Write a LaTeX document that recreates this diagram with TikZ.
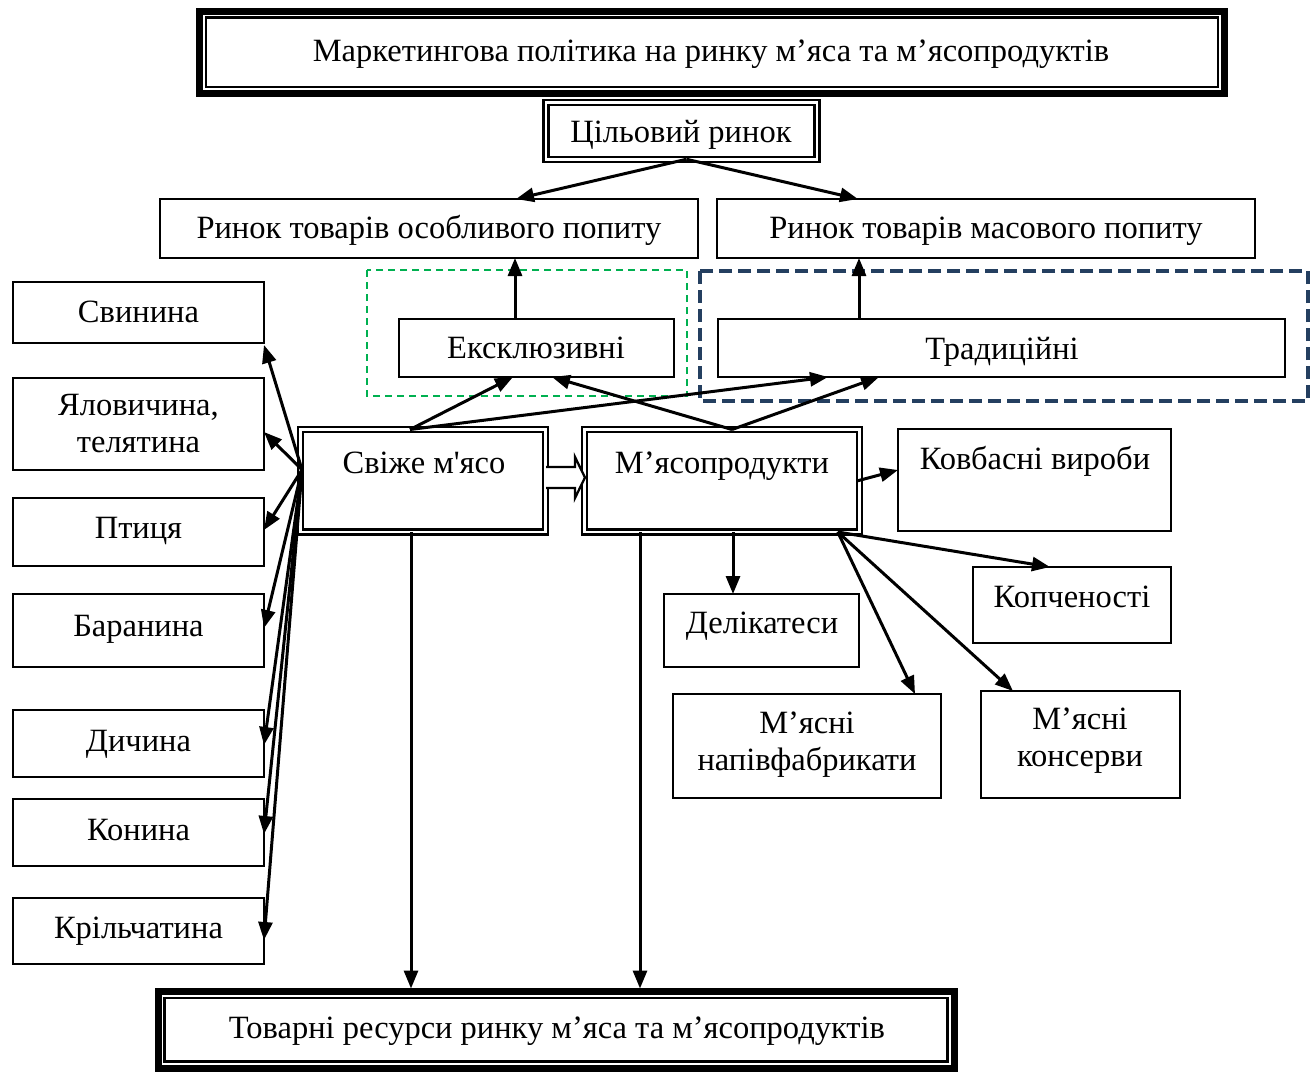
\documentclass[tikz,border=0pt]{standalone}
\usepackage{fontspec}
\setmainfont{Liberation Serif}[Ligatures=TeXOff]
\usetikzlibrary{arrows.meta,calc}
\definecolor{grn}{HTML}{00B050}
\definecolor{navy}{HTML}{243F60}

\begin{document}
\begin{tikzpicture}[x=1pt,y=-1pt,
  every node/.style={inner sep=0pt, outer sep=0pt, align=center,
    font=\fontsize{32.5}{37}\selectfont},
  box/.style={draw, line width=2.5pt, rectangle},
  dbox/.style={draw, line width=2.4pt, double, double distance=2.6pt, rectangle},
  frame/.style={draw, line width=7pt, rectangle},
  innerline/.style={line width=2.3pt},
  lbl/.style={anchor=base},
  arr/.style={line width=3pt, -{Triangle[length=18pt,width=14pt]}},
  grnbox/.style={draw=grn, line width=2.4pt, dash pattern=on 7pt off 5pt},
  navybox/.style={draw=navy, line width=4.8pt, dash pattern=on 13pt off 6pt},
  blockarrow/.style={line width=2.3pt, fill=white}
]
\fill[white] (0,0) rectangle (1314,1072);
\useasboundingbox (0,0) rectangle (1314,1072);

% group outlines
\draw[grnbox] (367,270) rectangle (687,396);
\draw[navybox] (700,271) rectangle (1308,401);

% top frame
\node[frame, minimum width=1025pt, minimum height=82.5pt] (title) at (712,52.25) {};
\draw[innerline] ([shift={(6.5,6.5)}]title.north west) rectangle ([shift={(-6.5,-6.5)}]title.south east);
\node[lbl] (title-t) at (711,61) {Маркетингова політика на ринку м’яса та м’ясопродуктів};

\node[dbox, minimum width=271pt, minimum height=56.5pt] (tsil) at (681.5,131) {};
\node[lbl] (tsil-t) at (681,142) {Цільовий ринок};

% markets
\node[box, minimum width=538pt, minimum height=59pt] (osobl) at (429,228.5) {};
\node[lbl] (osobl-t) at (429,238) {Ринок товарів особливого попиту};
\node[box, minimum width=538pt, minimum height=59pt] (masov) at (986,228.5) {};
\node[lbl] (masov-t) at (986,238) {Ринок товарів масового попиту};

\node[box, minimum width=275pt, minimum height=58pt] (ekskl) at (536.5,348) {};
\node[lbl] (ekskl-t) at (536,358) {Ексклюзивні};
\node[box, minimum width=567pt, minimum height=58pt] (trad) at (1001.5,348) {};
\node[lbl] (trad-t) at (1002,359) {Традиційні};

% main product groups
\node[dbox, minimum width=245pt, minimum height=102.5pt] (svizhe) at (423,480.75) {};
\node[lbl] (svizhe-t) at (424,473) {Свіже м'ясо};
\node[dbox, minimum width=274.5pt, minimum height=102.5pt] (myaso) at (722,480.75) {};
\node[lbl] (myaso-t) at (722,473) {М’ясопродукти};

% fresh meat kinds
\node[box, minimum width=251pt, minimum height=61pt] (svyn) at (138.5,312.5) {};
\node[lbl] (svyn-t) at (138.5,322.5) {Свинина};
\node[box, minimum width=251pt, minimum height=92pt] (yalov) at (138.5,424) {Яловичина,\\телятина};
\node[box, minimum width=251pt, minimum height=68pt] (ptyts) at (138.5,532) {};
\node[lbl] (ptyts-t) at (138.5,538) {Птиця};
\node[box, minimum width=251pt, minimum height=73pt] (baran) at (138.5,630.5) {};
\node[lbl] (baran-t) at (138.5,636) {Баранина};
\node[box, minimum width=251pt, minimum height=67pt] (dych) at (138.5,743.5) {};
\node[lbl] (dych-t) at (138.5,751) {Дичина};
\node[box, minimum width=251pt, minimum height=67pt] (kon) at (138.5,832.5) {};
\node[lbl] (kon-t) at (138.5,840) {Конина};
\node[box, minimum width=251pt, minimum height=66pt] (kril) at (138.5,931) {};
\node[lbl] (kril-t) at (138.5,938) {Крільчатина};

% meat products
\node[box, minimum width=273pt, minimum height=102pt] (kovb) at (1034.5,480) {};
\node[lbl] (kovb-t) at (1035,469) {Ковбасні вироби};
\node[box, minimum width=198pt, minimum height=76pt] (kopch) at (1072,605) {};
\node[lbl] (kopch-t) at (1072,607) {Копченості};
\node[box, minimum width=195pt, minimum height=73pt] (delik) at (761.5,630.5) {};
\node[lbl] (delik-t) at (762,633) {Делікатеси};
\node[box, minimum width=268pt, minimum height=104pt] (napiv) at (807,746) {};
\node (napiv-t) at (807,745) {М’ясні\\напівфабрикати};
\node[box, minimum width=199pt, minimum height=107pt] (konsv) at (1080.5,744.5) {};
\node (konsv-t) at (1080,741) {М’ясні\\консерви};

% bottom frame
\node[frame, minimum width=796pt, minimum height=76.5pt] (resurs) at (556,1029.75) {};
\draw[innerline] ([shift={(6.5,6.5)}]resurs.north west) rectangle ([shift={(-6.5,-6.5)}]resurs.south east);
\node[lbl] (resurs-t) at (557,1038) {Товарні ресурси ринку м’яса та м’ясопродуктів};

% connectors: target market
\draw[arr] ([xshift=5pt]tsil.south) -- ([xshift=87pt]osobl.north);
\draw[arr] ([xshift=5pt]tsil.south) -- ([xshift=-128pt]masov.north);
\draw[arr] ([xshift=-21.5pt]ekskl.north) -- ([xshift=-21.5pt]ekskl.north |- osobl.south);
\draw[arr] ([xshift=-142.5pt]trad.north) -- ([xshift=-142.5pt]trad.north |- masov.south);

% connectors: product groups to segments
\draw[arr] ([xshift=-13pt]svizhe.north) -- ([xshift=-23.5pt]ekskl.south);
\draw[arr] ([xshift=-13pt]svizhe.north) -- ([xshift=-173.5pt]trad.south);
\draw[arr] ([xshift=10pt]myaso.north) -- ([xshift=15.5pt]ekskl.south);
\draw[arr] ([xshift=10pt]myaso.north) -- ([xshift=-122.5pt]trad.south);

% block arrow between groups
\filldraw[blockarrow] (546,467) -- (575,467) -- (575,457) -- (585,477.5)
  -- (575,498) -- (575,488) -- (546,488);

% fan to fresh meat kinds
\coordinate (fan) at ([xshift=1.5pt,yshift=11pt]svizhe.west);
\draw[arr] (fan) -- ([yshift=-2pt]svyn.south east);
\draw[arr] (fan) -- ([yshift=-8pt]yalov.east);
\draw[arr] (fan) -- ([yshift=2pt]ptyts.east);
\draw[arr] (fan) -- ([yshift=2.5pt]baran.east);
\draw[arr] (fan) -- ([yshift=-1.5pt]dych.east);
\draw[arr] (fan) -- ([yshift=-1.5pt]kon.east);
\draw[arr] (fan) -- ([yshift=-9pt]kril.east);

% down to commodity resources
\draw[arr] ([xshift=-12pt]svizhe.south) -- ([xshift=-12pt,yshift=3pt]svizhe.south |- resurs.north);
\draw[arr] ([xshift=-82pt]myaso.south) -- ([xshift=-82pt,yshift=3pt]myaso.south |- resurs.north);

% meat products breakdown
\draw[arr] ([xshift=-1.5pt]myaso.east) -- ([yshift=10pt]kovb.west);
\draw[arr] ([xshift=-21.5pt]myaso.south east) -- ([xshift=-22pt]kopch.north);
\draw[arr] ([xshift=11pt]myaso.south) -- ([xshift=11pt]myaso.south |- delik.north);
\draw[arr] ([xshift=-21.5pt]myaso.south east) -- ([xshift=108pt]napiv.north);
\draw[arr] ([xshift=-21.5pt]myaso.south east) -- ([xshift=-67.5pt]konsv.north);
\end{tikzpicture}
\end{document}
